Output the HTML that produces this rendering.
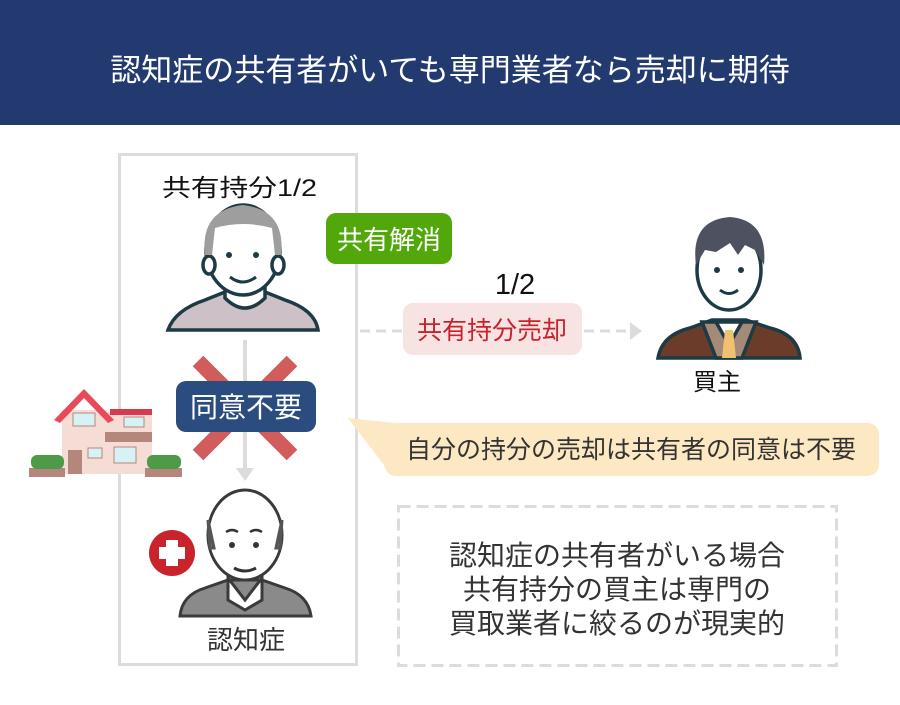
<!DOCTYPE html>
<html><head><meta charset="utf-8"><style>
body{margin:0;width:900px;height:700px;background:#fff;overflow:hidden;font-family:"Liberation Sans","Noto Sans CJK JP",sans-serif}
</style></head><body>
<svg width="900" height="700" viewBox="0 0 900 700" xmlns="http://www.w3.org/2000/svg" font-family="Liberation Sans, Noto Sans CJK JP, sans-serif">
<rect x="0" y="0" width="900" height="125" fill="#233a71"/>
<text x="450" y="81" font-size="31" fill="#fff" text-anchor="middle">認知症の共有者がいても専門業者なら売却に期待</text>

<rect x="119.5" y="154.5" width="237" height="510" fill="none" stroke="#dcdcdc" stroke-width="3"/>
<text x="162" y="196" font-size="24" fill="#111" textLength="155" lengthAdjust="spacingAndGlyphs">共有持分1/2</text>

<!-- old man 1 -->
<g stroke="#1d3a45" stroke-width="3.5">
<path d="M168 330 Q175 310 205 300 L225 292 L265 292 L285 300 Q315 310 318 330 Z" fill="#cdc0c6"/>
<path d="M225 280 L225 298 Q245 318 265 298 L265 280 Z" fill="#fff"/>
<ellipse cx="243" cy="250" rx="37" ry="45" fill="#fff"/>
<ellipse cx="209" cy="265" rx="6" ry="9" fill="#fff"/>
<ellipse cx="278" cy="265" rx="6" ry="9" fill="#fff"/>
</g>
<path d="M205 255 Q200 210 243 205 Q286 210 281 255 L275 255 L272 228 Q243 220 215 228 L212 255 Z" fill="#9e9e9e"/>
<circle cx="229" cy="255" r="3" fill="#1d3a45"/><circle cx="256" cy="255" r="3" fill="#1d3a45"/>
<path d="M230 277 Q243 287 256 277" stroke="#1d3a45" stroke-width="3" fill="none"/>

<!-- green badge -->
<rect x="326" y="213" width="126" height="51" rx="10" fill="#52a70a"/>
<text x="389" y="249" font-size="26" fill="#fff" text-anchor="middle">共有解消</text>

<text x="515" y="294" font-size="29" fill="#111" text-anchor="middle">1/2</text>
<line x1="360" y1="331" x2="630" y2="331" stroke="#dcdcdc" stroke-width="3" stroke-dasharray="10,6"/>
<path d="M630 322 L642 331 L630 340 Z" fill="#dcdcdc"/>
<rect x="403" y="303" width="179" height="52" rx="10" fill="#f8e3e3"/>
<text x="492" y="339" font-size="25" fill="#c8232c" text-anchor="middle">共有持分売却</text>

<!-- buyer -->
<g stroke="#1d3a45" stroke-width="3.5">
<path d="M658 358 Q662 335 690 328 L712 320 L746 320 L770 328 Q798 335 800 358 Z" fill="#6c3c2a"/>
<path d="M702 322 L716 358 L742 358 L756 322 Z" fill="#a58a78"/>
<path d="M716 322 L729 345 L742 322 Z" fill="#fff"/>
<ellipse cx="729" cy="270" rx="32" ry="40" fill="#fff"/>
</g>
<path d="M696 265 Q690 220 730 217 Q768 220 764 265 L755 250 L745 245 L738 255 L730 243 L716 252 L705 250 Z" fill="#4e5260"/>
<path d="M725 330 L733 330 L736 358 L722 358 Z" fill="#f0c270"/>
<circle cx="717" cy="270" r="3" fill="#1d3a45"/><circle cx="741" cy="270" r="3" fill="#1d3a45"/>
<path d="M720 290 Q729 297 738 290" stroke="#1d3a45" stroke-width="3" fill="none"/>
<text x="717" y="390" font-size="24" fill="#111" text-anchor="middle">買主</text>

<!-- vertical arrow -->
<line x1="245" y1="340" x2="245" y2="470" stroke="#dcdcdc" stroke-width="4"/>
<path d="M236 468 L254 468 L245 481 Z" fill="#dcdcdc"/>
<!-- red X -->
<g stroke="#d05c5c" stroke-width="15">
<line x1="198" y1="361" x2="292" y2="455"/>
<line x1="292" y1="361" x2="198" y2="455"/>
</g>
<rect x="176" y="381" width="140" height="51" rx="10" fill="#2b4c7e"/>
<text x="246" y="417" font-size="28" fill="#fff" text-anchor="middle">同意不要</text>

<!-- house -->
<rect x="62" y="410" width="45" height="64" fill="#f5ddd5"/>
<rect x="105" y="412" width="47" height="62" fill="#f5ddd5"/>
<rect x="105" y="432" width="47" height="10" fill="#b5867b"/>
<path d="M54 420 L84 389 L114 420 L108 423 L84 398 L60 423 Z" fill="#e84a5a"/>
<rect x="110" y="409" width="42" height="6" fill="#d93a4e"/>
<rect x="73" y="413" width="22" height="13" fill="#d6f2f5" stroke="#b5867b"/>
<rect x="124" y="417" width="20" height="10" fill="#d6f2f5" stroke="#b5867b"/>
<rect x="68" y="450" width="14" height="24" fill="#b5867b"/>
<rect x="88" y="448" width="14" height="10" fill="#d6f2f5" stroke="#b5867b"/>
<rect x="114" y="447" width="22" height="16" fill="#d6f2f5" stroke="#b5867b"/>
<rect x="29" y="468" width="36" height="9" fill="#b5867b"/>
<rect x="31" y="455" width="33" height="14" rx="6" fill="#4d9a48"/>
<rect x="145" y="468" width="37" height="9" fill="#b5867b"/>
<rect x="147" y="455" width="34" height="14" rx="6" fill="#4d9a48"/>

<!-- speech bubble -->
<path d="M348 418 L395 423 L866 423 Q879 423 879 436 L879 463 Q879 476 866 476 L397 476 Q386 476 384 465 Z" fill="#fce8c2"/>
<text x="631" y="458" font-size="25" fill="#333" text-anchor="middle">自分の持分の売却は共有者の同意は不要</text>

<!-- old man 2 -->
<g stroke="#3a3a3a" stroke-width="3">
<path d="M180 616 Q182 595 205 588 L228 580 L262 580 L285 588 Q308 595 311 616 Z" fill="#8a8a8a"/>
<path d="M228 578 L245 600 L262 578 L262 600 L245 610 L228 600 Z" fill="#fff"/>
<ellipse cx="245" cy="535" rx="37" ry="45" fill="#fff"/>
</g>
<path d="M208 520 L210 548 L214 548 Z M282 520 L280 548 L276 548 Z" fill="#777" stroke="#555" stroke-width="3"/>
<circle cx="232" cy="545" r="3" fill="#333"/><circle cx="256" cy="545" r="3" fill="#333"/>
<path d="M226 532 Q232 528 238 532 M250 532 Q256 528 262 532" stroke="#333" stroke-width="2.5" fill="none"/>
<path d="M234 568 Q245 574 256 568" stroke="#333" stroke-width="3" fill="none"/>
<circle cx="172" cy="553" r="23" fill="#c9232c"/>
<path d="M166 540 h12 v7 h7 v12 h-7 v7 h-12 v-7 h-7 v-12 h7 Z" fill="#fff"/>
<text x="246" y="649" font-size="26" fill="#333" text-anchor="middle">認知症</text>

<!-- dashed box -->
<rect x="398.5" y="506.5" width="438" height="159" fill="none" stroke="#dcdcdc" stroke-width="3" stroke-dasharray="12,6"/>
<g font-size="28" fill="#333" text-anchor="middle">
<text x="617" y="565">認知症の共有者がいる場合</text>
<text x="617" y="599">共有持分の買主は専門の</text>
<text x="617" y="633">買取業者に絞るのが現実的</text>
</g>
</svg>
</body></html>
